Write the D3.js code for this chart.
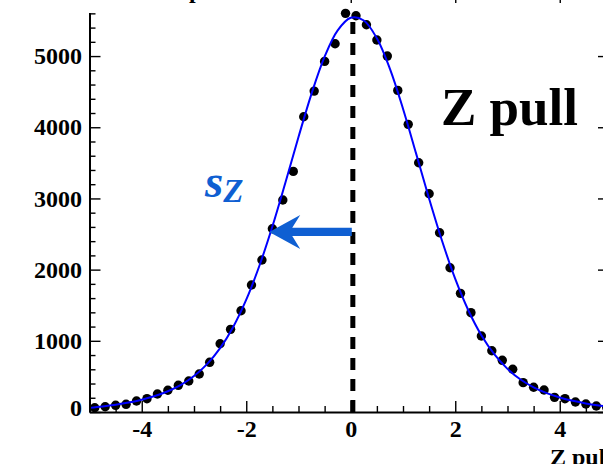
<!DOCTYPE html>
<html>
<head>
<meta charset="utf-8">
<script src="https://cdn.jsdelivr.net/npm/d3@7"></script>
<style>
  html, body { margin: 0; padding: 0; background: #fff; }
  svg { display: block; }
  text { font-family: "Liberation Serif", "Times New Roman", serif; font-weight: bold; }
</style>
</head>
<body>
<svg id="chart" width="603" height="464"></svg>
<script>
// Histogram of the Z pull: bin centres (width 0.2) and entries per bin
const binCenters = [-4.9, -4.7, -4.5, -4.3, -4.1, -3.9, -3.7, -3.5, -3.3, -3.1,
                    -2.9, -2.7, -2.5, -2.3, -2.1, -1.9, -1.7, -1.5, -1.3, -1.1,
                    -0.9, -0.7, -0.5, -0.3, -0.1, 0.1, 0.3, 0.5, 0.7, 0.9,
                    1.1, 1.3, 1.5, 1.7, 1.9, 2.1, 2.3, 2.5, 2.7, 2.9,
                    3.1, 3.3, 3.5, 3.7, 3.9, 4.1, 4.3, 4.5, 4.7, 4.9];
const binCounts = [60, 74, 94, 108, 154, 187, 253, 305, 375, 435,
                   534, 698, 959, 1161, 1423, 1784, 2135, 2574, 2978, 3380,
                   4148, 4508, 4925, 5173, 5600, 5566, 5440, 5225, 5000, 4518,
                   4041, 3501, 3066, 2518, 2027, 1667, 1395, 1067, 861, 726,
                   600, 412, 347, 309, 206, 187, 140, 112, 84, 62];

// Fitted curve, sampled every 0.25
const fitX = [-5, -4.75, -4.5, -4.25, -4, -3.75, -3.5, -3.25, -3, -2.75,
              -2.5, -2.25, -2, -1.75, -1.5, -1.25, -1, -0.75, -0.5, -0.25,
              0, 0.25, 0.5, 0.75, 1, 1.25, 1.5, 1.75, 2, 2.25,
              2.5, 2.75, 3, 3.25, 3.5, 3.75, 4, 4.25, 4.5, 4.75, 5];
const fitY = [58, 77, 101, 132, 172, 224, 292, 382, 505, 672,
              897, 1195, 1578, 2051, 2606, 3224, 3863, 4473, 4992, 5362,
              5539, 5500, 5249, 4820, 4261, 3633, 2996, 2398, 1870, 1430,
              1078, 808, 606, 457, 347, 265, 204, 157, 120, 92, 69];

// Axis ticks
const xMajorTicks = [-4, -2, 0, 2, 4];
const xMinorTicks = [-5, -4.5, -3.5, -3, -2.5, -1.5, -1, -0.5, 0.5, 1, 1.5, 2.5, 3, 3.5, 4.5, 5];
const yMajorTicks = [0, 1000, 2000, 3000, 4000, 5000];
const yMinorTicks = [200, 400, 600, 800, 1200, 1400, 1600, 1800, 2200, 2400, 2600, 2800,
                     3200, 3400, 3600, 3800, 4200, 4400, 4600, 4800, 5200, 5400, 5600, 5800];

// Annotations: fitted mean, peak height, width arrow
const fitMean = 0.04;
const fitPeak = 5550;
const widthArrow = { from: 0.02, to: -1.56, level: 2530 };

const titleText = "Vertex Z impact";
const xAxisTitle = "Z pull";
const panelLabel = "Z pull";
const widthSymbol = "s";
const widthSubscript = "Z";

const svg = d3.select("#chart");

const x = d3.scaleLinear().domain([-5, 5]).range([89.5, 612]);
const y = d3.scaleLinear().domain([0, 5900]).range([412, -8]);

const plot = svg.append("g");
svg.append("defs").append("clipPath").attr("id", "frame")
  .append("rect")
  .attr("x", x(-5)).attr("y", y(5900))
  .attr("width", x(5) - x(-5)).attr("height", y(0) - y(5900));

// data points
plot.append("g")
  .selectAll("circle")
  .data(binCenters.map((c, i) => [c, binCounts[i]]))
  .join("circle")
  .attr("cx", d => x(d[0]))
  .attr("cy", d => y(d[1]))
  .attr("r", 4.7)
  .attr("fill", "#000");

// fit curve
const fitLine = d3.line()
  .x(d => x(d[0]))
  .y(d => y(d[1]))
  .curve(d3.curveCatmullRom);
plot.append("path")
  .attr("clip-path", "url(#frame)")
  .datum(fitX.map((v, i) => [v, fitY[i]]))
  .attr("d", fitLine)
  .attr("fill", "none")
  .attr("stroke", "#0000ff")
  .attr("stroke-width", 2);

// mean line
plot.append("line")
  .attr("x1", x(fitMean)).attr("x2", x(fitMean))
  .attr("y1", y(0)).attr("y2", y(fitPeak))
  .attr("stroke", "#000")
  .attr("stroke-width", 5)
  .attr("stroke-dasharray", "12,9");

// width arrow
const arrowColor = "#0f5fd2";
const tx = x(widthArrow.to), ty = y(widthArrow.level), sx = x(widthArrow.from);
const headLen = 31, headHalf = 17, notch = 23, shaftHalf = 4.2;
plot.append("polygon")
  .attr("points", [
    [tx, ty],
    [tx + headLen, ty - headHalf],
    [tx + notch, ty - shaftHalf],
    [sx, ty - shaftHalf],
    [sx, ty + shaftHalf],
    [tx + notch, ty + shaftHalf],
    [tx + headLen, ty + headHalf]
  ].map(p => p.join(",")).join(" "))
  .attr("fill", arrowColor);

const sym = svg.append("text")
  .attr("x", 205).attr("y", 196.5)
  .attr("fill", arrowColor)
  .style("font-style", "italic");
sym.append("tspan").attr("font-size", 47).text(widthSymbol);
sym.append("tspan").attr("font-size", 33).attr("dy", 5).text(widthSubscript);

svg.append("text")
  .attr("x", 441).attr("y", 125)
  .attr("font-size", 53)
  .attr("fill", "#000")
  .text(panelLabel);

// axes
function styleAxis(g) {
  g.select(".domain").attr("stroke", "#000").attr("stroke-width", 2);
  g.selectAll(".tick line").attr("stroke", "#000").attr("stroke-width", 1.4);
  g.selectAll(".tick text").attr("fill", "#000")
    .attr("font-size", 24)
    .attr("font-family", "'Liberation Serif', 'Times New Roman', serif")
    .attr("font-weight", "bold");
}

// bottom
const xb = svg.append("g").attr("transform", `translate(0,${y(0)})`)
  .call(d3.axisBottom(x).tickValues(xMajorTicks).tickSizeInner(-11).tickSizeOuter(0)
        .tickPadding(8).tickFormat(d3.format("d")));
styleAxis(xb);
xb.selectAll(".tick text").text(d => (d < 0 ? "-" + Math.abs(d) : d));
const xbm = svg.append("g").attr("transform", `translate(0,${y(0)})`)
  .call(d3.axisBottom(x).tickValues(xMinorTicks).tickSizeInner(-6).tickSizeOuter(0).tickFormat(""));
styleAxis(xbm);
xbm.select(".domain").remove();

// top
const xt = svg.append("g").attr("transform", `translate(0,${y(5900)})`)
  .call(d3.axisTop(x).tickValues(xMajorTicks).tickSizeInner(-11).tickSizeOuter(0).tickFormat(""));
styleAxis(xt);
const xtm = svg.append("g").attr("transform", `translate(0,${y(5900)})`)
  .call(d3.axisTop(x).tickValues(xMinorTicks).tickSizeInner(-6).tickSizeOuter(0).tickFormat(""));
styleAxis(xtm);
xtm.select(".domain").remove();

// left
const yl = svg.append("g").attr("transform", `translate(${x(-5)},0)`)
  .call(d3.axisLeft(y).tickValues(yMajorTicks).tickSizeInner(-11).tickSizeOuter(0)
        .tickPadding(7.5).tickFormat(d3.format("d")));
styleAxis(yl);
yl.selectAll(".tick text").filter(d => d === 0).attr("dy", "0.15em");
const ylm = svg.append("g").attr("transform", `translate(${x(-5)},0)`)
  .call(d3.axisLeft(y).tickValues(yMinorTicks).tickSizeInner(-6).tickSizeOuter(0).tickFormat(""));
styleAxis(ylm);
ylm.select(".domain").remove();

// right
const yr = svg.append("g").attr("transform", `translate(${x(5)},0)`)
  .call(d3.axisRight(y).tickValues(yMajorTicks).tickSizeInner(-14).tickSizeOuter(0).tickFormat(""));
styleAxis(yr);
const yrm = svg.append("g").attr("transform", `translate(${x(5)},0)`)
  .call(d3.axisRight(y).tickValues(yMinorTicks).tickSizeInner(-7).tickSizeOuter(0).tickFormat(""));
styleAxis(yrm);
yrm.select(".domain").remove();

// x axis title
svg.append("text")
  .attr("x", x(5)).attr("y", 465)
  .attr("text-anchor", "end")
  .attr("font-size", 24)
  .text(xAxisTitle);

// title box
svg.append("rect")
  .attr("x", 30).attr("y", -20)
  .attr("width", 305).attr("height", 33)
  .attr("fill", "#fff");
const title = svg.append("text")
  .attr("y", -2)
  .attr("font-size", 24)
  .text(titleText);
const probe = svg.append("text").attr("font-size", 24).text(titleText.slice(0, titleText.indexOf("p")));
const prefixW = probe.node().getComputedTextLength();
probe.remove();
title.attr("x", 189 - prefixW);
</script>
</body>
</html>
